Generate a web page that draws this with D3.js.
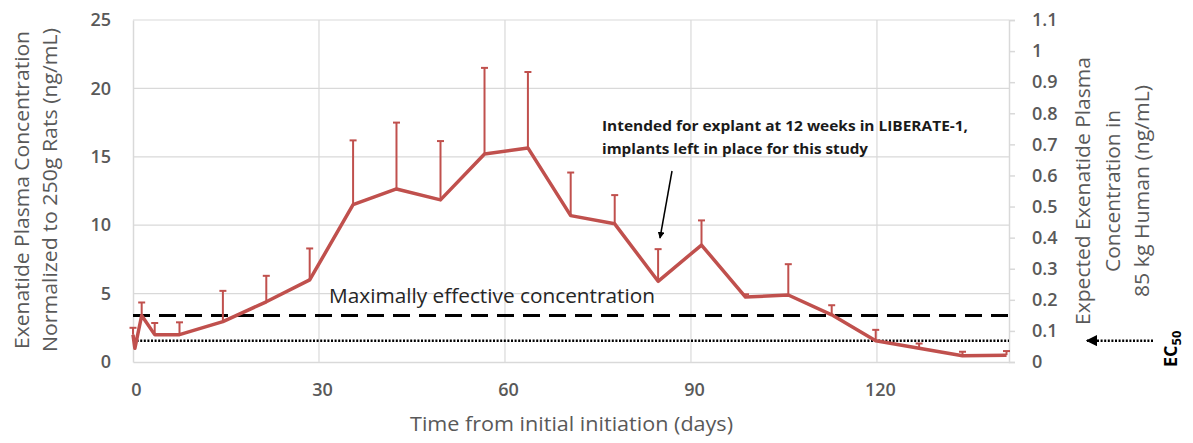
<html lang="en">
<head>
    <meta charset="UTF-8"/>
    <title>Exenatide plasma concentration</title>
    <style>
        body { margin: 0; background: #fff; }
        svg { display: block; }
        text { font-family: "Open Sans", sans-serif; }
        .tick text { fill: #595959; font-size: 18px; font-weight: 600; }
        .axis-title { fill: #595959; font-size: 20px; font-weight: 500; }
    </style>
</head>
<body>
<svg width="1193" height="443"></svg>
<script src="https://d3js.org/d3.v7.min.js"></script>
<script>
    // values
    const days = [0, 0.3, 1.4, 3.5, 7.5, 14.5, 21.5, 28.5, 35.5, 42.5, 49.6, 56.7, 63.7, 70.6,
        77.7, 84.7, 91.7, 98.8, 105.7, 112.7, 119.8, 126.8, 133.8, 140.9];
    const conc = [2.0, 1.0, 3.4, 2.0, 2.0, 2.95, 4.4, 6.0, 11.5, 12.65, 11.85, 15.2, 15.65, 10.7,
        10.1, 5.9, 8.55, 4.75, 4.9, 3.45, 1.55, 1.0, 0.45, 0.5];
    const errTop = [2.5, null, 4.35, 2.85, 2.9, 5.2, 6.3, 8.3, 16.2, 17.5, 16.15, 21.5, 21.2, 13.85,
        12.2, 8.25, 10.35, 4.95, 7.15, 4.15, 2.35, 1.35, 0.75, 0.8];
    const xTicks = [0, 30, 60, 90, 120];
    const yTicks = [0, 5, 10, 15, 20, 25];
    const yRightTicks = [0, 0.1, 0.2, 0.3, 0.4, 0.5, 0.6, 0.7, 0.8, 0.9, 1, 1.1];
    const maxEffective = 3.4;
    const ec50 = 1.56;

    const svg = d3.select("svg");
    const mLeft = 133, mRight = 1009, mTop = 20, mBottom = 362;

    const x = d3.scaleLinear().domain([0, 141.3]).range([mLeft, mRight]);
    const y = d3.scaleLinear().domain([0, 25]).range([mBottom, mTop]);
    const yR = d3.scaleLinear().domain([0, 1.1]).range([mBottom, mTop]);

    // grid
    svg.append("g").selectAll("line").data(yTicks.slice(1)).join("line")
        .attr("x1", mLeft).attr("x2", mRight)
        .attr("y1", d => y(d)).attr("y2", d => y(d))
        .attr("stroke", "#d9d9d9").attr("stroke-width", 1.2);
    svg.append("g").selectAll("line").data(xTicks.slice(1)).join("line")
        .attr("x1", d => x(d)).attr("x2", d => x(d))
        .attr("y1", mTop).attr("y2", mBottom)
        .attr("stroke", "#d9d9d9").attr("stroke-width", 1.2);

    // axes
    const gx = svg.append("g").attr("transform", `translate(0,${mBottom})`)
        .call(d3.axisBottom(x).tickValues(xTicks).tickSize(0).tickPadding(21));
    const gy = svg.append("g").attr("transform", `translate(${mLeft},0)`)
        .call(d3.axisLeft(y).tickValues(yTicks).tickSize(0).tickPadding(22));
    const gyR = svg.append("g").attr("transform", `translate(${mRight},0)`)
        .call(d3.axisRight(yR).tickValues(yRightTicks).tickSize(6).tickPadding(17)
            .tickFormat(d3.format("~g")));
    [gx, gy, gyR].forEach(g => {
        g.select(".domain").attr("stroke", "#d9d9d9").attr("stroke-width", 1.5);
        g.selectAll(".tick line").attr("stroke", "#d9d9d9").attr("stroke-width", 1.5);
    });
    gx.selectAll(".tick text").attr("dx", 3);

    // reference lines
    svg.append("line")
        .attr("x1", mLeft).attr("x2", mRight)
        .attr("y1", y(maxEffective)).attr("y2", y(maxEffective))
        .attr("stroke", "#000").attr("stroke-width", 3)
        .attr("stroke-dasharray", "17,9");
    svg.append("line")
        .attr("x1", mLeft).attr("x2", mRight)
        .attr("y1", y(ec50)).attr("y2", y(ec50))
        .attr("stroke", "#000").attr("stroke-width", 2.5)
        .attr("stroke-dasharray", "2,1.6");

    // error bars (upper only)
    const pts = days.map((d, i) => ({day: d, v: conc[i], e: errTop[i]}));
    const red = "#c0504d";
    const eb = svg.append("g").selectAll("g").data(pts.filter(p => p.e != null)).join("g");
    eb.append("line")
        .attr("x1", d => x(d.day)).attr("x2", d => x(d.day))
        .attr("y1", d => y(d.v)).attr("y2", d => y(d.e))
        .attr("stroke", red).attr("stroke-width", 2);
    eb.append("line")
        .attr("x1", d => x(d.day) - 3.5).attr("x2", d => x(d.day) + 3.5)
        .attr("y1", d => y(d.e)).attr("y2", d => y(d.e))
        .attr("stroke", red).attr("stroke-width", 2);

    // mean line
    svg.append("path").datum(pts)
        .attr("fill", "none").attr("stroke", red).attr("stroke-width", 3.5)
        .attr("stroke-linejoin", "round")
        .attr("d", d3.line().x(d => x(d.day)).y(d => y(d.v)));

    // axis titles
    svg.append("text").attr("class", "axis-title")
        .attr("x", 410).attr("y", 431)
        .attr("textLength", 323).attr("lengthAdjust", "spacingAndGlyphs")
        .text("Time from initial initiation (days)");
    const lt = svg.append("text").attr("class", "axis-title")
        .attr("transform", "translate(29,190) rotate(-90)").attr("text-anchor", "middle");
    lt.append("tspan").attr("x", 0).attr("y", 0)
        .attr("textLength", 318).attr("lengthAdjust", "spacingAndGlyphs")
        .text("Exenatide Plasma Concentration");
    lt.append("tspan").attr("x", 0).attr("y", 28)
        .attr("textLength", 324).attr("lengthAdjust", "spacingAndGlyphs")
        .text("Normalized to 250g Rats (ng/mL)");
    const rt = svg.append("text").attr("class", "axis-title")
        .attr("transform", "translate(1090,191) rotate(-90)").attr("text-anchor", "middle");
    rt.append("tspan").attr("x", 0).attr("y", 0)
        .attr("textLength", 268).attr("lengthAdjust", "spacingAndGlyphs")
        .text("Expected Exenatide Plasma");
    rt.append("tspan").attr("x", 0).attr("y", 29.5)
        .attr("textLength", 162).attr("lengthAdjust", "spacingAndGlyphs")
        .text("Concentration in");
    rt.append("tspan").attr("x", 0).attr("y", 59)
        .attr("textLength", 212).attr("lengthAdjust", "spacingAndGlyphs")
        .text("85 kg Human (ng/mL)");

    // annotations
    svg.append("text")
        .attr("x", 329).attr("y", 303)
        .attr("fill", "#262626").attr("font-size", 20)
        .attr("textLength", 326).attr("lengthAdjust", "spacingAndGlyphs")
        .text("Maximally effective concentration");

    const ann = svg.append("text")
        .attr("font-size", 15).attr("font-weight", "bold").attr("fill", "#1a1a1a");
    ann.append("tspan").attr("x", 602).attr("y", 131)
        .attr("textLength", 366).attr("lengthAdjust", "spacingAndGlyphs")
        .text("Intended for explant at 12 weeks in LIBERATE-1,");
    ann.append("tspan").attr("x", 602).attr("y", 154)
        .attr("textLength", 266).attr("lengthAdjust", "spacingAndGlyphs")
        .text("implants left in place for this study");

    const defs = svg.append("defs");
    defs.append("marker").attr("id", "arr")
        .attr("viewBox", "0 0 10 10").attr("refX", 9).attr("refY", 5)
        .attr("markerWidth", 4.5).attr("markerHeight", 4.5).attr("orient", "auto")
        .append("path").attr("d", "M0,0 L10,5 L0,10 z").attr("fill", "#000");

    svg.append("line")
        .attr("x1", 672).attr("y1", 171).attr("x2", 660).attr("y2", 238)
        .attr("stroke", "#000").attr("stroke-width", 1.5)
        .attr("marker-end", "url(#arr)");

    svg.append("line")
        .attr("x1", 1153).attr("y1", y(ec50)).attr("x2", 1087).attr("y2", y(ec50))
        .attr("stroke", "#000").attr("stroke-width", 2.5)
        .attr("stroke-dasharray", "2,1.6")
        .attr("marker-end", "url(#arr)");

    const ecText = svg.append("text")
        .attr("transform", "translate(1177,367) rotate(-90)")
        .attr("font-size", 18).attr("font-weight", "bold").attr("fill", "#000");
    ecText.append("tspan").text("EC");
    ecText.append("tspan").attr("font-size", 13).attr("dy", 4).text("50");
</script>
</body>
</html>
